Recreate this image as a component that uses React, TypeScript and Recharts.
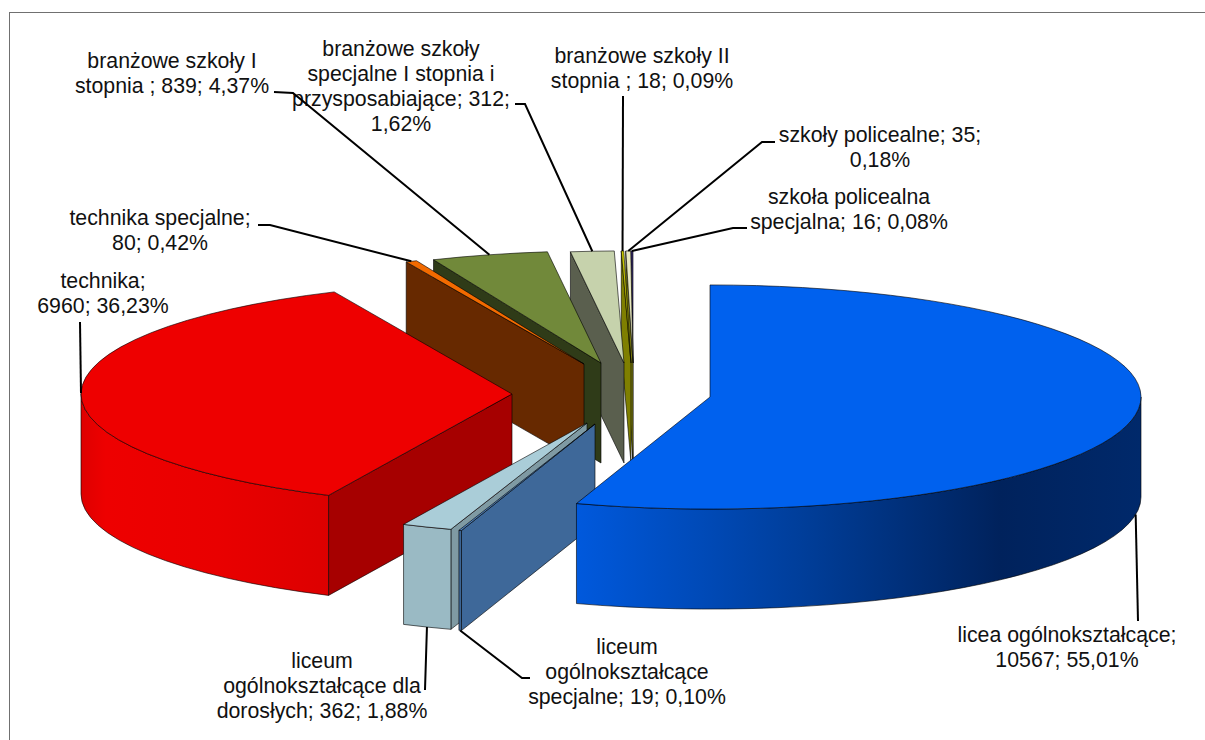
import { PieChart, Pie } from 'recharts';

const categories = [
  'licea ogólnokształcące',
  'liceum ogólnokształcące specjalne',
  'liceum ogólnokształcące dla dorosłych',
  'technika',
  'technika specjalne',
  'branżowe szkoły I stopnia',
  'branżowe szkoły specjalne I stopnia i przysposabiające',
  'branżowe szkoły II stopnia',
  'szkoły policealne',
  'szkoła policealna specjalna',
];
const values = [10567, 19, 362, 6960, 80, 839, 312, 18, 35, 16];
const labelLines = [
  ['licea ogólnokształcące;', '10567; 55,01%'],
  ['liceum', 'ogólnokształcące', 'specjalne; 19; 0,10%'],
  ['liceum', 'ogólnokształcące dla', 'dorosłych; 362; 1,88%'],
  ['technika;', '6960; 36,23%'],
  ['technika specjalne;', '80; 0,42%'],
  ['branżowe szkoły I', 'stopnia ; 839; 4,37%'],
  ['branżowe szkoły', 'specjalne I stopnia i', 'przysposabiające; 312;', '1,62%'],
  ['branżowe szkoły II', 'stopnia ; 18; 0,09%'],
  ['szkoły policealne; 35;', '0,18%'],
  ['szkoła policealna', 'specjalna; 16; 0,08%'],
];

// look of each slice, same order as categories
const sliceStyles = [
  { dx: 0, dy: 0, top: '#0061EE', wall: 'url(#wallBlue)', face: '#00379A' },
  { dx: -115, dy: 27, top: '#4F81BD', wall: '#3E6899', face: '#3E6899' },
  { dx: -123, dy: 26, top: '#AACDD8', wall: '#9ABAC4', face: '#7F9AA3' },
  { dx: -198, dy: -3, top: '#EE0000', wall: 'url(#wallRed)', face: '#A60000' },
  { dx: -126, dy: -33, top: '#F26A00', wall: '#672900', face: '#672900' },
  { dx: -109, dy: -34, top: '#71893A', wall: '#2F3B18', face: '#2F3B18' },
  { dx: -86, dy: -34, top: '#C6D2AC', wall: '#5A5F4E', face: '#5A5F4E' },
  { dx: -79, dy: -34, top: '#C8C800', wall: '#7F7F00', face: '#7F7F00' },
  { dx: -77, dy: -34, top: '#E8E8C0', wall: '#7C7C10', face: '#7C7C10' },
  { dx: -77, dy: -34, top: '#3A2F70', wall: '#111111', face: '#111111' },
];

// label anchor (centre x, first baseline) and the bend points of its leader line
const labelLayout = [
  { x: 1067, y: 642, leader: [[1138, 621]] },
  { x: 627, y: 654, leader: [[522, 678], [530, 678]] },
  { x: 322, y: 668, leader: [[425, 690]] },
  { x: 103, y: 288, leader: [[80, 322]] },
  { x: 160, y: 225, leader: [[270, 225], [258, 225]] },
  { x: 172, y: 68, leader: [[293, 93], [274, 92]] },
  { x: 401, y: 56, leader: [[525, 104], [515, 104]] },
  { x: 642, y: 63, leader: [[623, 96]] },
  { x: 880, y: 142, leader: [[762, 142], [775, 142]] },
  { x: 849, y: 204, leader: [[733, 228], [747, 228]] },
];

const TILT = 0.26;
const DEPTH = 100;

// the table is reversed so the back slices paint first, the angles run to match
const pieData = categories
  .map((name, i) => ({ name, value: values[i], idx: i }))
  .reverse();

const point = (cx: number, cy: number, r: number, deg: number) => {
  const a = (deg * Math.PI) / 180;
  return [cx + r * Math.sin(a), cy - r * TILT * Math.cos(a)];
};

const arc = (cx: number, cy: number, r: number, from: number, to: number, sweep: number) => {
  const [x, y] = point(cx, cy, r, to);
  const large = Math.abs(to - from) > 180 ? 1 : 0;
  return `A${r} ${r * TILT} 0 ${large} ${sweep} ${x} ${y}`;
};

const Slice3D = (props: any) => {
  const { cx, cy, outerRadius: r, startAngle, endAngle, payload } = props;
  const idx = payload?.idx ?? props.idx;
  const st = sliceStyles[idx];
  const x0 = cx + st.dx;
  const y0 = cy + st.dy;
  const a = 90 - endAngle;
  const b = 90 - startAngle;
  const line = { stroke: '#000', strokeOpacity: 0.6, strokeWidth: 1, strokeLinejoin: 'round' as const };

  const pa = point(x0, y0, r, a);
  const pb = point(x0, y0, r, b);
  const wallFrom = Math.max(a, 90);
  const wallTo = Math.min(b, 270);
  const wa = point(x0, y0, r, wallFrom);
  const wb = point(x0, y0, r, wallTo);

  const cut = (p: number[]) =>
    `M${x0} ${y0}L${p[0]} ${p[1]}L${p[0]} ${p[1] + DEPTH}L${x0} ${y0 + DEPTH}Z`;

  return (
    <g>
      <defs>
        <linearGradient id="wallBlue" gradientUnits="userSpaceOnUse" x1="575" y1="0" x2="1142" y2="0">
          <stop offset="0%" stopColor="#0059DD" />
          <stop offset="40%" stopColor="#003E9A" />
          <stop offset="75%" stopColor="#00225C" />
          <stop offset="100%" stopColor="#00296B" />
        </linearGradient>
        <linearGradient id="wallRed" gradientUnits="userSpaceOnUse" x1="81" y1="0" x2="328" y2="0">
          <stop offset="0%" stopColor="#DE0000" />
          <stop offset="10%" stopColor="#EE0000" />
          <stop offset="55%" stopColor="#E90000" />
          <stop offset="100%" stopColor="#DD0000" />
        </linearGradient>
      </defs>
      {Math.sin((a * Math.PI) / 180) < -0.001 && <path d={cut(pa)} fill={st.face} {...line} />}
      {Math.sin((b * Math.PI) / 180) > 0.001 && <path d={cut(pb)} fill={st.face} {...line} />}
      {wallTo > wallFrom && (
        <path
          d={`M${wa[0]} ${wa[1]}${arc(x0, y0, r, wallFrom, wallTo, 1)}L${wb[0]} ${wb[1] + DEPTH}${arc(x0, y0 + DEPTH, r, wallTo, wallFrom, 0)}Z`}
          fill={st.wall}
          {...line}
        />
      )}
      <path
        d={`M${x0} ${y0}L${pa[0]} ${pa[1]}${arc(x0, y0, r, a, b, 1)}Z`}
        fill={st.top}
        {...line}
      />
    </g>
  );
};

const renderLabel = (props: any) => {
  const { cx, cy, outerRadius: r, startAngle, endAngle, payload } = props;
  const idx = payload?.idx ?? props.idx;
  const st = sliceStyles[idx];
  const lay = labelLayout[idx];
  const mid = 90 - (startAngle + endAngle) / 2;
  const p = point(cx + st.dx, cy + st.dy, r, mid);
  // front slices get their leader from the bottom of the wall
  const front = Math.cos((mid * Math.PI) / 180) < -0.1;
  const start = [p[0], p[1] + (front ? DEPTH : 0)];
  const pts = [start, ...lay.leader].map((q) => q.join(',')).join(' ');
  return (
    <g key={idx}>
      <polyline points={pts} fill="none" stroke="#000" strokeWidth={2} />
      <text x={lay.x} y={lay.y} textAnchor="middle" fontFamily="'Liberation Sans', Arial, sans-serif" fontSize={21.3} fill="#111">
        {labelLines[idx].map((t, i) => (
          <tspan key={i} x={lay.x} y={lay.y + i * 25}>
            {t}
          </tspan>
        ))}
      </text>
    </g>
  );
};

export default function App() {
  return (
    <div style={{ position: 'absolute', left: 0, top: 0, width: 1205, height: 740, overflow: 'hidden', background: '#fff' }}>
      <div style={{ position: 'absolute', left: 9, top: 12, width: 1300, height: 900, border: '1.5px solid #707070' }} />
      <div style={{ position: 'absolute', left: 0, top: 0 }}>
        <PieChart width={1205} height={740} margin={{ top: 0, right: 0, bottom: 0, left: 0 }}>
          <Pie
            data={pieData}
            dataKey="value"
            nameKey="name"
            cx={710}
            cy={397}
            innerRadius={0}
            outerRadius={431}
            startAngle={-270}
            endAngle={90}
            shape={Slice3D}
            label={renderLabel}
            labelLine={false}
            isAnimationActive={false}
          />
        </PieChart>
      </div>
    </div>
  );
}
